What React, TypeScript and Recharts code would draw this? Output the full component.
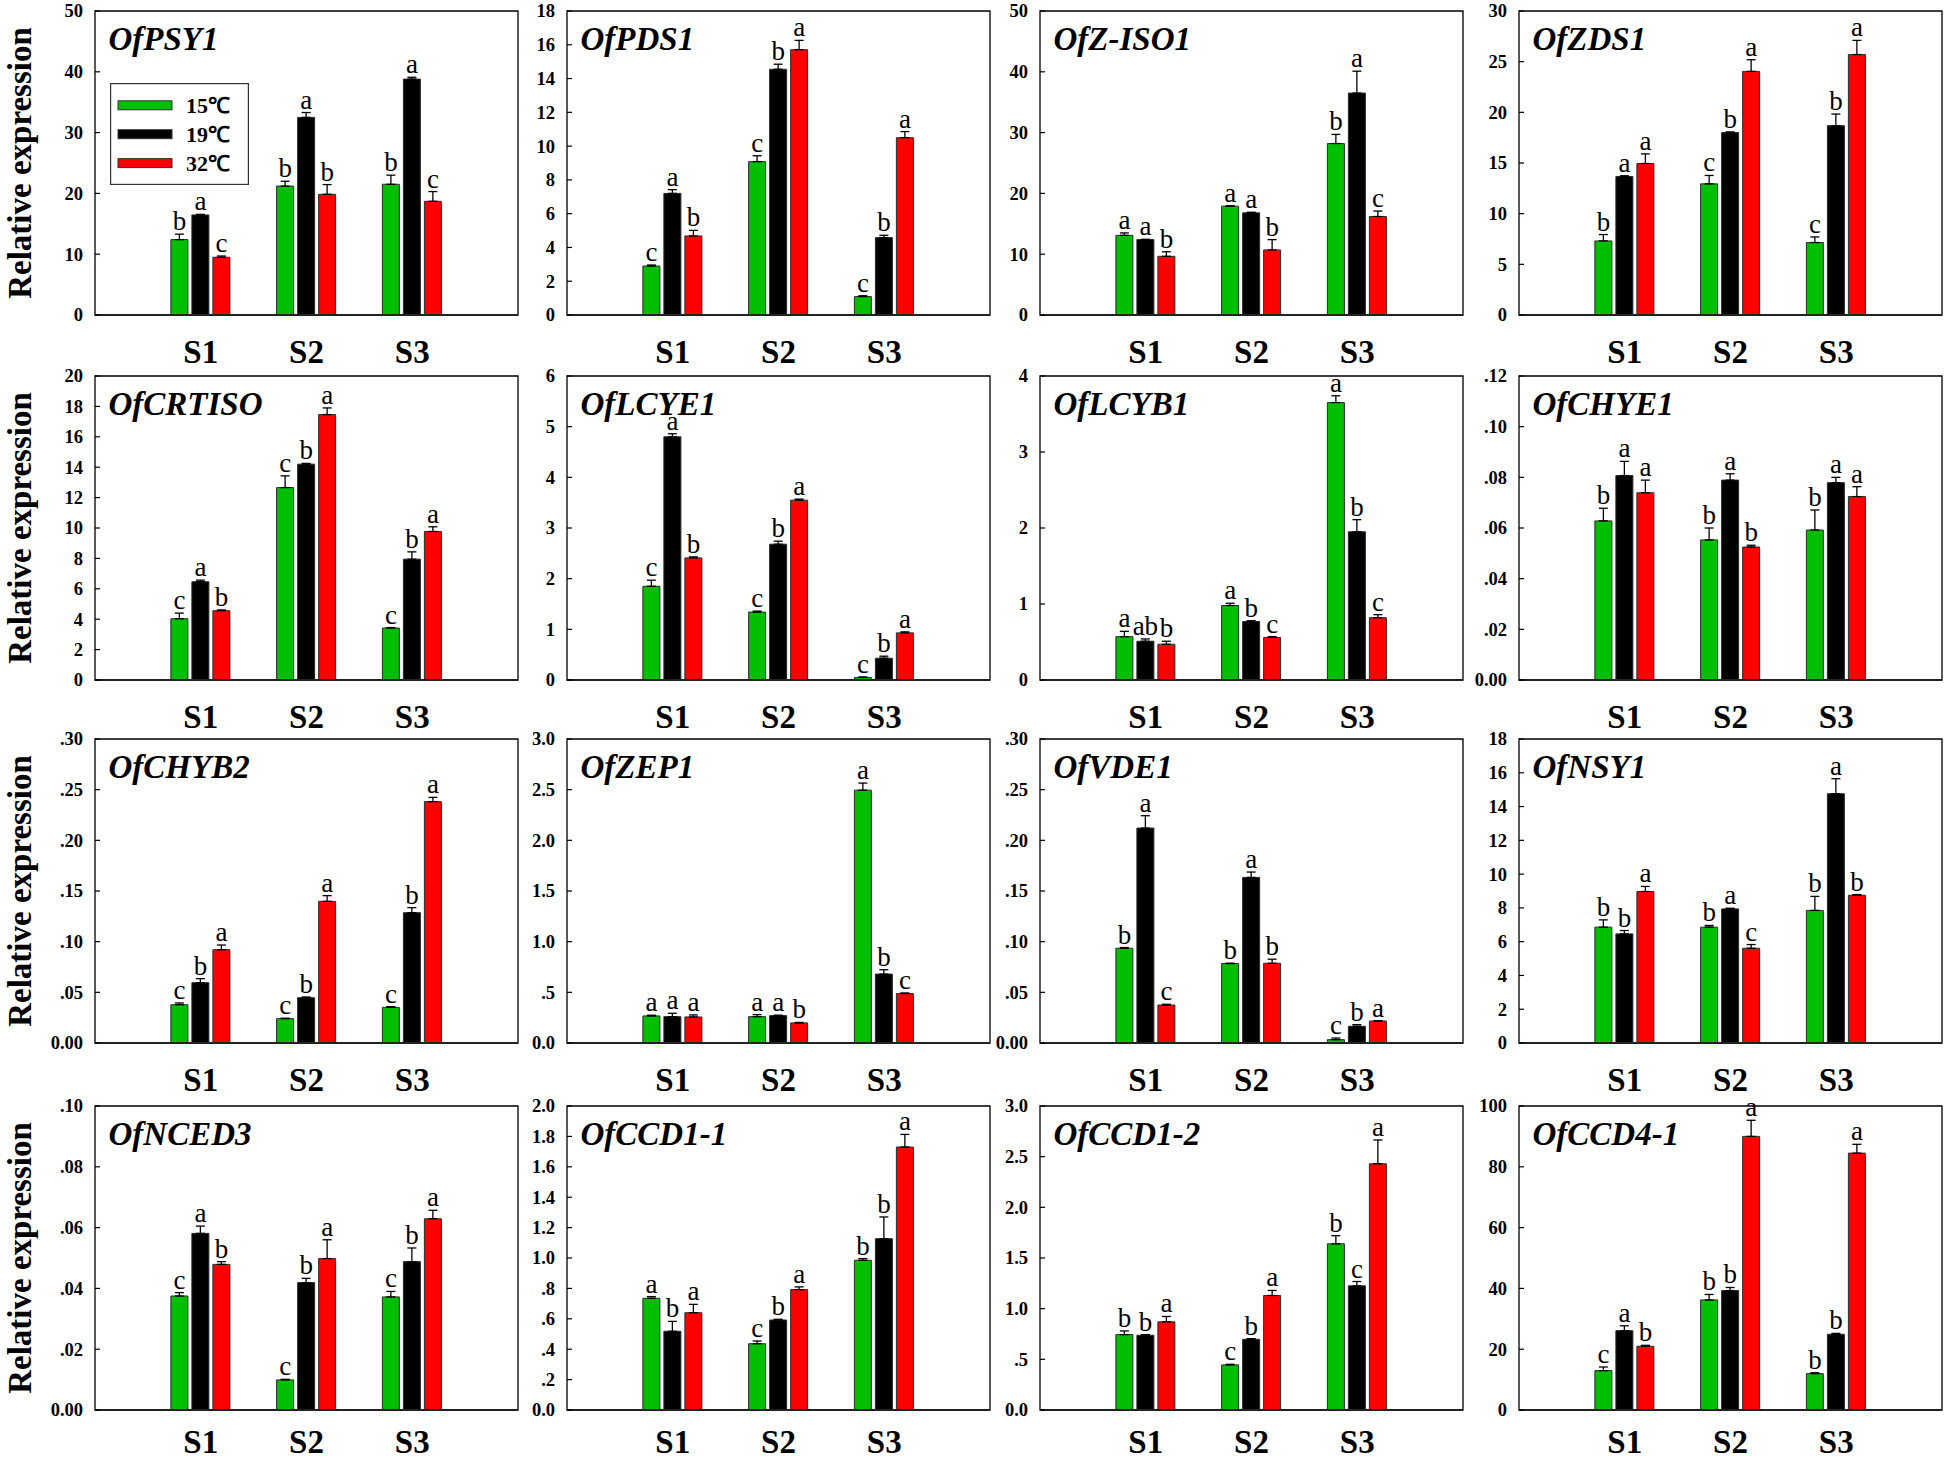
import React from 'react';
import { BarChart, Bar, XAxis, YAxis, ErrorBar, LabelList, ReferenceArea, Legend } from 'recharts';

const FONT = '"Liberation Serif", "Times New Roman", Times, serif';
const COLORS = ['#00BE00', '#000000', '#FF0000'];

const categories = ['S1', 'S2', 'S3'];
const categoryPos = [1, 2, 3];
const temps = ['15℃', '19℃', '32℃'];

// Each gene: rows = temperatures (15, 19, 32 ℃), columns = S1, S2, S3
const psy1Mean = [[12.4, 21.2, 21.5], [16.45, 32.5, 38.8], [9.5, 19.85, 18.7]];
const psy1Err = [[0.9, 0.8, 1.5], [0.1, 0.8, 0.3], [0.2, 1.6, 1.6]];
const psy1Sig = [['b', 'b', 'b'], ['a', 'a', 'a'], ['c', 'b', 'c']];

const pds1Mean = [[2.9, 9.08, 1.09], [7.2, 14.55, 4.58], [4.68, 15.71, 10.5]];
const pds1Err = [[0.06, 0.35, 0.05], [0.22, 0.3, 0.14], [0.33, 0.55, 0.36]];
const pds1Sig = [['c', 'c', 'c'], ['a', 'b', 'b'], ['b', 'a', 'a']];

const ziso1Mean = [[13.1, 17.9, 28.2], [12.4, 16.8, 36.5], [9.65, 10.7, 16.2]];
const ziso1Err = [[0.4, 0.05, 1.5], [0.05, 0.1, 3.6], [0.75, 1.7, 0.9]];
const ziso1Sig = [['a', 'a', 'b'], ['a', 'a', 'a'], ['b', 'b', 'c']];

const zds1Mean = [[7.31, 12.94, 7.15], [13.67, 18.0, 18.68], [14.95, 24.04, 25.7]];
const zds1Err = [[0.63, 0.83, 0.55], [0.07, 0.07, 1.15], [0.95, 1.15, 1.4]];
const zds1Sig = [['b', 'c', 'c'], ['a', 'b', 'b'], ['a', 'a', 'a']];

const crtisoMean = [[4.03, 12.66, 3.42], [6.46, 14.2, 7.95], [4.56, 17.46, 9.77]];
const crtisoErr = [[0.37, 0.77, 0.03], [0.11, 0.05, 0.48], [0.05, 0.44, 0.31]];
const crtisoSig = [['c', 'c', 'c'], ['a', 'b', 'b'], ['b', 'a', 'a']];

const lcye1Mean = [[1.85, 1.34, 0.05], [4.8, 2.68, 0.43], [2.41, 3.55, 0.93]];
const lcye1Err = [[0.12, 0.02, 0.01], [0.06, 0.06, 0.04], [0.02, 0.02, 0.02]];
const lcye1Sig = [['c', 'c', 'c'], ['a', 'b', 'b'], ['b', 'a', 'a']];

const lcyb1Mean = [[0.57, 0.98, 3.65], [0.51, 0.77, 1.95], [0.47, 0.56, 0.82]];
const lcyb1Err = [[0.07, 0.03, 0.09], [0.03, 0.01, 0.16], [0.04, 0.01, 0.04]];
const lcyb1Sig = [['a', 'a', 'a'], ['ab', 'b', 'b'], ['b', 'c', 'c']];

const chye1Mean = [[0.0628, 0.0553, 0.0592], [0.0807, 0.0789, 0.0779], [0.0739, 0.0525, 0.0724]];
const chye1Err = [[0.005, 0.0047, 0.0079], [0.0056, 0.0025, 0.0021], [0.005, 0.0007, 0.0039]];
const chye1Sig = [['b', 'b', 'b'], ['a', 'a', 'a'], ['a', 'b', 'a']];

const chyb2Mean = [[0.0378, 0.024, 0.0352], [0.0595, 0.0447, 0.1286], [0.0921, 0.1398, 0.2382]];
const chyb2Err = [[0.0017, 0.0005, 0.0007], [0.004, 0.0007, 0.005], [0.0046, 0.0056, 0.0042]];
const chyb2Sig = [['c', 'c', 'c'], ['b', 'b', 'b'], ['a', 'a', 'a']];

const zep1Mean = [[0.267, 0.26, 2.495], [0.26, 0.27, 0.68], [0.257, 0.198, 0.488]];
const zep1Err = [[0.007, 0.02, 0.07], [0.033, 0.005, 0.043], [0.02, 0.005, 0.006]];
const zep1Sig = [['a', 'a', 'a'], ['a', 'a', 'b'], ['a', 'b', 'c']];

const vde1Mean = [[0.0935, 0.0784, 0.0033], [0.2121, 0.1634, 0.0165], [0.0375, 0.0787, 0.0217]];
const vde1Err = [[0.0007, 0.0003, 0.0016], [0.0122, 0.0053, 0.0016], [0.0007, 0.004, 0.0003]];
const vde1Sig = [['b', 'b', 'c'], ['a', 'a', 'b'], ['c', 'b', 'a']];

const nsy1Mean = [[6.86, 6.86, 7.85], [6.46, 7.94, 14.76], [8.97, 5.61, 8.75]];
const nsy1Err = [[0.43, 0.1, 0.83], [0.2, 0.04, 0.89], [0.3, 0.22, 0.04]];
const nsy1Sig = [['b', 'b', 'b'], ['b', 'a', 'a'], ['a', 'c', 'b']];

const nced3Mean = [[0.0375, 0.0099, 0.0372], [0.0581, 0.0419, 0.0488], [0.0479, 0.0498, 0.0629]];
const nced3Err = [[0.0011, 0.0002, 0.0018], [0.0024, 0.0014, 0.0045], [0.0009, 0.0062, 0.0028]];
const nced3Sig = [['c', 'c', 'c'], ['a', 'b', 'b'], ['b', 'a', 'a']];

const ccd11Mean = [[0.735, 0.436, 0.985], [0.518, 0.592, 1.127], [0.64, 0.792, 1.73]];
const ccd11Err = [[0.011, 0.018, 0.011], [0.065, 0.005, 0.143], [0.055, 0.018, 0.083]];
const ccd11Sig = [['a', 'c', 'b'], ['b', 'b', 'b'], ['a', 'a', 'a']];

const ccd12Mean = [[0.744, 0.445, 1.64], [0.738, 0.698, 1.225], [0.87, 1.13, 2.43]];
const ccd12Err = [[0.036, 0.006, 0.08], [0.006, 0.006, 0.043], [0.053, 0.05, 0.235]];
const ccd12Sig = [['b', 'c', 'b'], ['b', 'b', 'c'], ['a', 'a', 'a']];

const ccd41Mean = [[12.95, 36.2, 11.96], [26.1, 39.3, 24.9], [20.97, 90.0, 84.5]];
const ccd41Err = [[1.2, 1.8, 0.3], [1.6, 1.0, 0.3], [0.3, 5.3, 2.9]];
const ccd41Sig = [['c', 'b', 'b'], ['a', 'b', 'b'], ['b', 'a', 'a']];

// Tick values and tick labels
const ticks50 = [0, 10, 20, 30, 40, 50];
const labels50 = ['0', '10', '20', '30', '40', '50'];
const ticks18 = [0, 2, 4, 6, 8, 10, 12, 14, 16, 18];
const labels18 = ['0', '2', '4', '6', '8', '10', '12', '14', '16', '18'];
const ticks30 = [0, 5, 10, 15, 20, 25, 30];
const labels30 = ['0', '5', '10', '15', '20', '25', '30'];
const ticks20 = [0, 2, 4, 6, 8, 10, 12, 14, 16, 18, 20];
const labels20 = ['0', '2', '4', '6', '8', '10', '12', '14', '16', '18', '20'];
const ticks6 = [0, 1, 2, 3, 4, 5, 6];
const labels6 = ['0', '1', '2', '3', '4', '5', '6'];
const ticks4 = [0, 1, 2, 3, 4];
const labels4 = ['0', '1', '2', '3', '4'];
const ticks012 = [0, 0.02, 0.04, 0.06, 0.08, 0.1, 0.12];
const labels012 = ['0.00', '.02', '.04', '.06', '.08', '.10', '.12'];
const ticks030 = [0, 0.05, 0.1, 0.15, 0.2, 0.25, 0.3];
const labels030 = ['0.00', '.05', '.10', '.15', '.20', '.25', '.30'];
const ticks3 = [0, 0.5, 1, 1.5, 2, 2.5, 3];
const labels3 = ['0.0', '.5', '1.0', '1.5', '2.0', '2.5', '3.0'];
const ticks010 = [0, 0.02, 0.04, 0.06, 0.08, 0.1];
const labels010 = ['0.00', '.02', '.04', '.06', '.08', '.10'];
const ticks2 = [0, 0.2, 0.4, 0.6, 0.8, 1, 1.2, 1.4, 1.6, 1.8, 2];
const labels2 = ['0.0', '.2', '.4', '.6', '.8', '1.0', '1.2', '1.4', '1.6', '1.8', '2.0'];
const ticks100 = [0, 20, 40, 60, 80, 100];
const labels100 = ['0', '20', '40', '60', '80', '100'];

type Panel = {
  gene: string;
  mean: number[][];
  err: number[][];
  sig: string[][];
  ticks: number[];
  tickLabels: string[];
};

const panels: Panel[] = [
  { gene: 'OfPSY1', mean: psy1Mean, err: psy1Err, sig: psy1Sig, ticks: ticks50, tickLabels: labels50 },
  { gene: 'OfPDS1', mean: pds1Mean, err: pds1Err, sig: pds1Sig, ticks: ticks18, tickLabels: labels18 },
  { gene: 'OfZ-ISO1', mean: ziso1Mean, err: ziso1Err, sig: ziso1Sig, ticks: ticks50, tickLabels: labels50 },
  { gene: 'OfZDS1', mean: zds1Mean, err: zds1Err, sig: zds1Sig, ticks: ticks30, tickLabels: labels30 },
  { gene: 'OfCRTISO', mean: crtisoMean, err: crtisoErr, sig: crtisoSig, ticks: ticks20, tickLabels: labels20 },
  { gene: 'OfLCYE1', mean: lcye1Mean, err: lcye1Err, sig: lcye1Sig, ticks: ticks6, tickLabels: labels6 },
  { gene: 'OfLCYB1', mean: lcyb1Mean, err: lcyb1Err, sig: lcyb1Sig, ticks: ticks4, tickLabels: labels4 },
  { gene: 'OfCHYE1', mean: chye1Mean, err: chye1Err, sig: chye1Sig, ticks: ticks012, tickLabels: labels012 },
  { gene: 'OfCHYB2', mean: chyb2Mean, err: chyb2Err, sig: chyb2Sig, ticks: ticks030, tickLabels: labels030 },
  { gene: 'OfZEP1', mean: zep1Mean, err: zep1Err, sig: zep1Sig, ticks: ticks3, tickLabels: labels3 },
  { gene: 'OfVDE1', mean: vde1Mean, err: vde1Err, sig: vde1Sig, ticks: ticks030, tickLabels: labels030 },
  { gene: 'OfNSY1', mean: nsy1Mean, err: nsy1Err, sig: nsy1Sig, ticks: ticks18, tickLabels: labels18 },
  { gene: 'OfNCED3', mean: nced3Mean, err: nced3Err, sig: nced3Sig, ticks: ticks010, tickLabels: labels010 },
  { gene: 'OfCCD1-1', mean: ccd11Mean, err: ccd11Err, sig: ccd11Sig, ticks: ticks2, tickLabels: labels2 },
  { gene: 'OfCCD1-2', mean: ccd12Mean, err: ccd12Err, sig: ccd12Sig, ticks: ticks3, tickLabels: labels3 },
  { gene: 'OfCCD4-1', mean: ccd41Mean, err: ccd41Err, sig: ccd41Sig, ticks: ticks100, tickLabels: labels100 },
];

// Layout
const CHART_W = 520;
const CHART_H = 385;
const MARGIN = { top: 21, right: 2, bottom: 10, left: 35 };
const Y_AXIS_W = 60;
const X_AXIS_H = 50;
const PLOT_LEFT = MARGIN.left + Y_AXIS_W; // 95
const PLOT_TOP = MARGIN.top; // 21
const PLOT_H = CHART_H - MARGIN.top - MARGIN.bottom - X_AXIS_H; // 304
const COL_LEFT = [0, 472, 945, 1424];
const ROW_TOP = [-10, 355, 718, 1085];

const makeXTick = (baselineOffset: number) => (props: any) => {
  const { x, y, payload } = props;
  const idx = categoryPos.indexOf(payload.value);
  return (
    <text x={x} y={y + baselineOffset} textAnchor="middle" fontFamily={FONT} fontWeight="bold" fontSize={33} fill="#000">
      {categories[idx] ?? ''}
    </text>
  );
};

const makeYTick = (ticks: number[], labels: string[]) => (props: any) => {
  const { y, payload } = props;
  let i = ticks.findIndex((t) => Math.abs(t - payload.value) < 1e-9);
  if (i < 0) i = props.index;
  return (
    <g>
      <line x1={PLOT_LEFT} x2={PLOT_LEFT + 5} y1={y} y2={y} stroke="#000" strokeWidth={1.2} />
      <text x={PLOT_LEFT - 12} y={y + 6.4} textAnchor="end" fontFamily={FONT} fontWeight="bold" fontSize={18.5} fill="#000">
        {labels[i]}
      </text>
    </g>
  );
};

const letterContent = (props: any) => {
  const vb = props.viewBox || {};
  const x = vb.x ?? props.x;
  const y = vb.y ?? props.y;
  const w = vb.width ?? props.width;
  const h = vb.height ?? props.height;
  if (x == null || y == null) return null;
  const [letter, vStr, eStr] = String(props.value).split('|');
  const v = Number(vStr);
  const e = Number(eStr);
  const top = Math.min(y, y + h);
  const hh = Math.abs(h);
  const errTop = v > 0 ? top - e * (hh / v) : top;
  return (
    <text x={x + w / 2} y={errTop - 4} textAnchor="middle" fontFamily={FONT} fontSize={27} fill="#000">
      {letter}
    </text>
  );
};

const legendContent = (props: any) => {
  const payload = props.payload && props.payload.length ? props.payload : temps.map((t, i) => ({ value: t, color: COLORS[i] }));
  return (
    <svg width={139} height={102} style={{ display: 'block' }}>
      <rect x={0.6} y={0.6} width={137.8} height={100.8} fill="#fff" stroke="#333" strokeWidth={1.2} />
      {payload.map((it: any, i: number) => (
        <g key={i}>
          <rect x={8} y={17.8 + i * 28.9} width={54} height={9} fill={it.color} stroke="#333" strokeWidth={1} />
          <text x={76} y={29.8 + i * 28.9} fontFamily={FONT} fontWeight="bold" fontSize={22} fill="#000">
            {it.value}
          </text>
        </g>
      ))}
    </svg>
  );
};

const PanelChart = ({ panel, index }: { panel: Panel; index: number }) => {
  const col = index % 4;
  const row = Math.floor(index / 4);
  const ymax = panel.ticks[panel.ticks.length - 1];
  const data = categories.map((c, i) => ({
    x: categoryPos[i],
    cat: c,
    v0: panel.mean[0][i],
    v1: panel.mean[1][i],
    v2: panel.mean[2][i],
    e0: panel.err[0][i],
    e1: panel.err[1][i],
    e2: panel.err[2][i],
    s0: panel.sig[0][i],
    s1: panel.sig[1][i],
    s2: panel.sig[2][i],
  }));

  const panelLabel = () => (
    <g>
      <text x={PLOT_LEFT + 13.5} y={PLOT_TOP + 39} fontFamily={FONT} fontWeight="bold" fontStyle="italic" fontSize={33} fill="#000">
        {panel.gene}
      </text>
      {col === 0 && (
        <text
          x={31}
          y={PLOT_TOP + PLOT_H / 2}
          transform={`rotate(-90, 31, ${PLOT_TOP + PLOT_H / 2})`}
          textAnchor="middle"
          fontFamily={FONT}
          fontWeight="bold"
          fontSize={33}
          fill="#000"
        >
          Relative expression
        </text>
      )}
    </g>
  );

  const XTick = makeXTick(row === 3 ? 42.5 : 47.5);

  return (
    <div style={{ position: 'absolute', left: COL_LEFT[col], top: ROW_TOP[row], width: CHART_W, height: CHART_H }}>
      <BarChart width={CHART_W} height={CHART_H} data={data} margin={MARGIN} barSize={17} barGap={4}>
        <XAxis
          type="number"
          dataKey="x"
          domain={[0, 4]}
          ticks={categoryPos}
          interval={0}
          allowDataOverflow
          height={X_AXIS_H}
          tickLine={false}
          tickSize={0}
          tickMargin={0}
          axisLine={{ stroke: '#222', strokeWidth: 2 }}
          tick={XTick}
        />
        <YAxis
          type="number"
          domain={[0, ymax]}
          ticks={panel.ticks}
          interval={0}
          allowDataOverflow
          width={Y_AXIS_W}
          axisLine={false}
          tickLine={false}
          tickSize={0}
          tickMargin={0}
          tick={makeYTick(panel.ticks, panel.tickLabels)}
        />
        <ReferenceArea
          x1={0}
          x2={4}
          y1={0}
          y2={ymax}
          fill="none"
          stroke="#000"
          strokeWidth={1.3}
          ifOverflow="visible"
          label={panelLabel}
        />
        {[0, 1, 2].map((k) => (
          <Bar
            key={k}
            dataKey={`v${k}`}
            name={temps[k]}
            fill={COLORS[k]}
            stroke="#2a2a2a"
            strokeWidth={1}
            isAnimationActive={false}
          >
            <ErrorBar
              dataKey={(d: any) => [0, d[`e${k}`]]}
              width={4.5}
              stroke="#000"
              strokeWidth={1.3}
              direction="y"
            />
            <LabelList
              dataKey={(d: any) => `${d[`s${k}`]}|${d[`v${k}`]}|${d[`e${k}`]}`}
              content={letterContent}
            />
          </Bar>
        ))}
        {index === 0 && (
          <Legend
            layout="vertical"
            align="center"
            verticalAlign="middle"
            content={legendContent}
            wrapperStyle={{ position: 'absolute', left: 110, top: 93, width: 139, height: 102 }}
          />
        )}
      </BarChart>
    </div>
  );
};

export default function App() {
  return (
    <div style={{ position: 'absolute', left: 0, top: 0, width: 1944, height: 1460, background: '#fff', overflow: 'hidden' }}>
      {panels.map((p, i) => (
        <PanelChart key={p.gene} panel={p} index={i} />
      ))}
    </div>
  );
}
